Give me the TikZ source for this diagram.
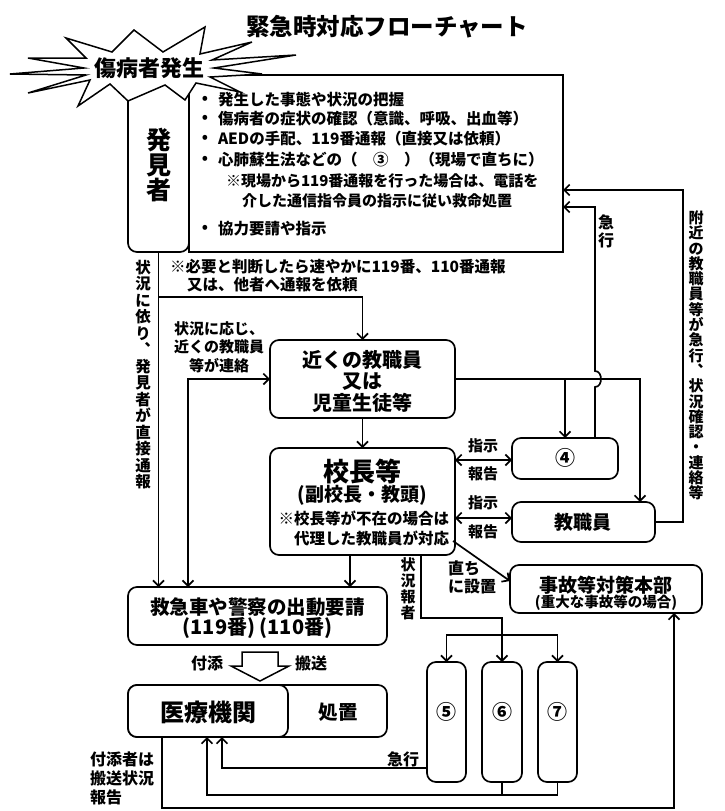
\documentclass[tikz,border=0pt]{standalone}
\usepackage{fontspec}
\setmainfont{Noto Sans CJK JP}
\usetikzlibrary{arrows.meta}
\begin{document}
\begin{tikzpicture}[x=1pt,y=-1pt,line width=1.7pt,
  bx/.style={draw,fill=white,rounded corners=9pt,inner sep=0pt,outer sep=0pt,anchor=north west},
  tx/.style={inner sep=0pt,outer sep=0pt,font=\bfseries\fontsize{#1}{#1}\selectfont},
  tx/.default=15.5,
  vt/.style 2 args={inner sep=0pt,outer sep=0pt,align=center,font=\bfseries\fontsize{#1}{#2}\selectfont},
  arr/.style={-{Straight Barb[length=5.5pt,width=11pt]}},
  arrb/.style={{Straight Barb[length=5.5pt,width=11pt]}-{Straight Barb[length=5.5pt,width=11pt]}}]
\useasboundingbox (0,0) rectangle (724,811);
\fill[white] (0,0) rectangle (724,811);

% title
\node[tx=23.5] (title) at (387,27) {緊急時対応フローチャート};

% boxes
\node[bx,rounded corners=0pt,minimum width=374pt,minimum height=177pt] (main) at (189,75) {};
\node[bx,minimum width=61pt,minimum height=172pt] (hakken) at (128,80) {};
\node[bx,minimum width=185pt,minimum height=78pt] (near) at (270,340) {};
\node[bx,minimum width=185pt,minimum height=107pt] (kocho) at (270,448) {};
\node[bx,minimum width=106pt,minimum height=41pt] (four) at (512,438) {};
\node[bx,minimum width=143pt,minimum height=40pt] (kyoshoku) at (512,502) {};
\node[bx,minimum width=192pt,minimum height=48pt] (honbu) at (510,565) {};
\node[bx,minimum width=259pt,minimum height=58pt] (kyukyu) at (128,587) {};
\node[bx,minimum width=259pt,minimum height=52pt] (shochi) at (128,685) {};
\node[bx,minimum width=160pt,minimum height=52pt] (iryo) at (128,685) {};
\node[bx,minimum width=39pt,minimum height=120pt] (five) at (427,662) {};
\node[bx,minimum width=40pt,minimum height=120pt] (six) at (482,662) {};
\node[bx,minimum width=39pt,minimum height=120pt] (seven) at (538,662) {};

% texts in boxes
\node[vt={25}{25}] (hakkentx) at (158.5,165) {発\\見\\者};
\foreach \yy/\nm in {100/b1,119/b2,139/b3,160/b4,229/b7}
  \node[tx] (\nm) at (205,\yy) {•};
\node[tx,anchor=west] (l1) at (218,100) {発生した事態や状況の把握};
\node[tx,anchor=west] (l2) at (218,119) {傷病者の症状の確認（意識、呼吸、出血等）};
\node[tx,anchor=west] (l3) at (218,139) {AEDの手配、119番通報（直接又は依頼）};
\node[tx,anchor=west] (l4) at (218,160) {心肺蘇生法などの（　③　）（現場で直ちに）};
\node[tx=15,anchor=west] (l5) at (226,181) {※現場から119番通報を行った場合は、電話を};
\node[tx=15,anchor=west] (l6) at (242,201) {介した通信指令員の指示に従い救命処置};
\node[tx,anchor=west] (l7) at (218,229) {協力要請や指示};

\node[vt={20}{21.5}] (neartx) at (362.5,381) {近くの教職員\\又は\\児童生徒等};
\node[tx=26] (k1) at (362.5,472) {校長等};
\node[tx=19] (k2) at (362.5,495) {(副校長・教頭)};
\node[tx,anchor=east] (k3) at (449,518) {※校長等が不在の場合は};
\node[tx,anchor=east] (k4) at (449,538) {代理した教職員が対応};
\node[tx=20] (fourtx) at (565,458) {④};
\node[tx=19] (kyoshokutx) at (583,522) {教職員};
\node[tx=19] (honbu1) at (606,585) {事故等対策本部};
\node[tx=14.5] (honbu2) at (606,603) {(重大な事故等の場合)};
\node[tx=19.5] (kyukyu1) at (257.5,607) {救急車や警察の出動要請};
\node[tx=20] (kyukyu2) at (257.5,628) {(119番) (110番)};
\node[tx=24] (iryotx) at (208,712) {医療機関};
\node[tx=19.5] (shochitx) at (338,712) {処置};
\node[tx=20] (fivetx) at (446.5,712) {⑤};
\node[tx=20] (sixtx) at (502,712) {⑥};
\node[tx=20] (seventx) at (557.5,712) {⑦};

% notes and labels
\node[tx,anchor=west] (n1) at (170,267) {※必要と判断したら速やかに119番、110番通報};
\node[tx,anchor=west] (n2) at (187,285) {又は、他者へ通報を依頼};
\node[vt={15.5}{16.5}] (v1) at (143,374.5) {状\\況\\に\\依\\り\\︑\\発\\見\\者\\が\\直\\接\\通\\報};
\node[vt={15}{18.5}] (renraku) at (219,347) {状況に応じ、\\近くの教職員\\等が連絡};
\node[vt={15}{15.3}] (v2) at (696,355.5) {附\\近\\の\\教\\職\\員\\等\\が\\急\\行\\︑\\状\\況\\確\\認\\・\\連\\絡\\等};
\node[vt={16}{18}] (v3) at (606,231) {急\\行};
\node[vt={15}{16}] (v4) at (408,589) {状\\況\\報\\者};
\node[tx=15] (s1) at (483,446) {指示};
\node[tx=15] (r1) at (483,474) {報告};
\node[tx=15] (s2) at (483,503) {指示};
\node[tx=15] (r2) at (483,532) {報告};
\node[tx=16,anchor=west] (choku1) at (448,568) {直ち};
\node[tx=16,anchor=west] (choku2) at (448,587) {に設置};
\node[tx=16] (tsuki) at (207,663) {付添};
\node[tx=16] (hanso) at (311,663) {搬送};
\node[tx=16] (kyuko2) at (403,759) {急行};
\node[vt={16}{19},align=left,anchor=north west] (tsukisha) at (90,752) {付添者は\\搬送状況\\報告};

% hollow arrow
\draw[line width=1.5pt,line join=miter] (242,652) -- (278,652) -- (278,666) -- (289,666) -- (260,681) -- (231,666) -- (242,666) -- cycle;

% coordinates
\coordinate (j297) at (158.5,297);
\coordinate (c188) at (188,587);
\coordinate (k640) at (640,502);
\coordinate (q0) at (595,438);
\coordinate (q1) at (595,387);
\coordinate (q2) at (595,371);
\coordinate (q3) at (595,207);
\coordinate (m207) at (563,207);
\coordinate (p683) at (683,522);
\coordinate (p683t) at (683,190);
\coordinate (m190) at (563,190);
\coordinate (a1) at (455,460);
\coordinate (a2) at (512,460);
\coordinate (a3) at (455,518);
\coordinate (a4) at (512,518);
\coordinate (d1) at (453,541);
\coordinate (d2) at (510,581);
\coordinate (x350) at (350,555);
\coordinate (x350b) at (350,587);
\coordinate (r0) at (421,555);
\coordinate (r1c) at (421,618);
\coordinate (r2c) at (502,618);
\coordinate (h635) at (502,635);
\coordinate (e1) at (427,768);
\coordinate (e2) at (222,737);
\coordinate (f1) at (502,795);
\coordinate (f2) at (207,737);
\coordinate (t0) at (162,737);
\coordinate (t1) at (162,808);
\coordinate (t2) at (674,613);

% connectors
\draw[arr] (hakken.south) -- (hakken.south |- kyukyu.north);
\draw[arr] (j297) -| (near.north);
\draw[arrb] (near.west) -| (c188);
\draw[arr] (near.south) -- (kocho.north);
\draw[arr] (near.east) -| (k640);
\draw[arr] (near.east -| four.north) -- (four.north);
\draw[arr] (q0) -- (q1) .. controls (603,387) and (603,371) .. (q2) -- (q3) -- (m207);
\draw[arr] (kyoshoku.east |- p683) -- (p683) -- (p683t) -- (m190);
\draw[arrb] (a1) -- (a2);
\draw[arrb] (a3) -- (a4);
\draw[arr] (d1) -- (d2);
\draw[arr] (x350) -- (x350b);
\draw[arr] (r0) -- (r1c) -- (r2c) -- (six.north);
\draw[arrb] (five.north) |- (h635) -| (seven.north);
\draw[arr] (e1) -| (e2);
\draw (six.south) -- (f1);
\draw[arr] (seven.south) |- (f1) -| (f2);
\draw[arr] (t0) -- (t1) -| (t2);

% burst
\draw[fill=white,line width=1.5pt] (10,74) -- (84,68) -- (28,58) -- (86,58) -- (66,38) -- (112,52) -- (134,30) -- (163,52) -- (205,27) -- (200,54) -- (252,42) -- (212,60) -- (296,55) -- (214,68) -- (262,74) -- (210,77) -- (240,92) -- (196,83) -- (185,100) -- (165,85) -- (128,101) -- (110,84) -- (78,106) -- (90,80) -- (28,93) -- (86,75) -- cycle;
\node[tx=22] (burst) at (149,68) {傷病者発生};
\end{tikzpicture}
\end{document}
